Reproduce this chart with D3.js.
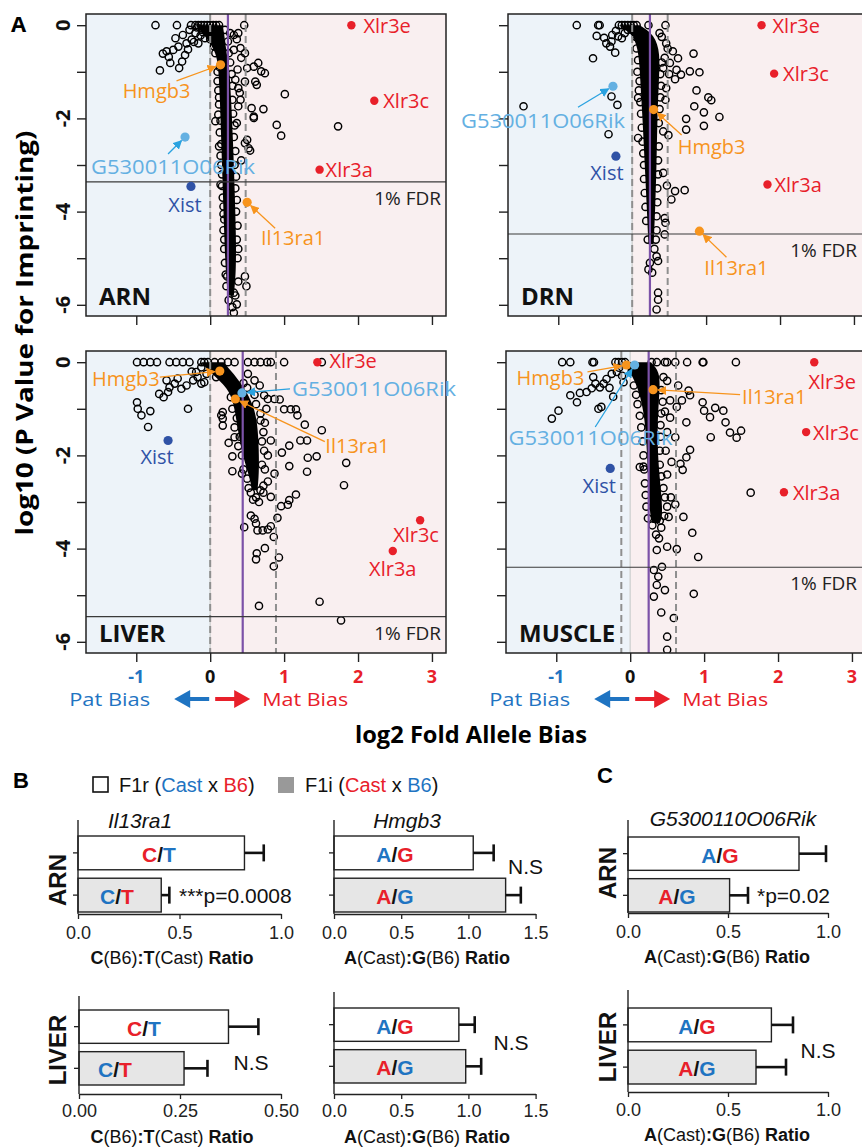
<!DOCTYPE html>
<html><head><meta charset="utf-8">
<script src="https://cdn.jsdelivr.net/npm/d3@7"></script>
<style>body{margin:0;background:#fff}svg{display:block}</style>
</head><body><svg id="c" width="862" height="1147"></svg>
<script>
// ===================== DATA =====================
const geneNames = ["Xlr3e","Xlr3c","Xlr3a","Hmgb3","Il13ra1","G530011O06Rik","Xist"];
const xTickValues = [-1,0,1,2,3];
const yTickValues = [0,-1,-2,-3,-4,-5,-6];
const yTickLabels = ["0","","-2","","-4","","-6"];

// open circles [log2 fold allele bias, log10 p]
const arnPoints = [[-0.74,0],[-0.45,0],[-0.26,0],[-0.2,0],[-0.16,0],[-0.12,0],[-0.08,0],[-0.04,0],[0.0,0],[0.04,0],[0.08,0],[0.12,0],[0.46,0],
[-0.64,-0.61],[-0.68,-0.97],[-0.54,-0.81],[-0.59,-0.56],[-0.5,-0.53],[-0.43,-0.46],[-0.38,-0.78],[-0.34,-0.64],[-0.42,-0.92],[-0.47,-0.28],[-0.32,-0.39],[-0.25,-0.31],[-0.2,-0.17],[-0.16,-0.39],[-0.37,-0.21],[-0.11,-0.1],[-0.07,-0.28],[-0.28,-0.1],[-0.13,-0.22],[-0.22,-0.36],[-0.56,-0.68],[-0.3,-0.52],
[0.27,-0.17],[0.32,-0.21],[0.38,-0.17],[0.41,-0.49],[0.47,-0.6],[0.32,-0.53],[0.65,-0.81],[0.59,-0.89],[0.74,-1.03],[0.69,-0.99],[0.5,-0.92],[0.47,-1.21],[0.61,-1.21],[0.63,-1.28],[0.34,-1.17],[0.38,-1.35],[1.01,-1.48],[0.56,-1.78],[0.72,-1.8],[0.59,-1.96],[0.59,-1.99],[0.9,-2.14],[0.96,-2.37],[1.73,-2.17],[0.47,-2.53],[0.52,-2.64],[0.54,-2.69],[0.41,-1.6],[0.38,-1.74],[0.5,-2.46],[0.36,-0.3],[0.42,-0.7],[0.37,-0.95],[0.4,-1.45],[0.36,-2.1],[0.42,-2.9],
[0.07,-2.06],[0.11,-1.92],[0.14,-3.42],[0.18,-3.89],[0.19,-4.17],[0.23,-5.39],[0.27,-4.96],[0.32,-5.74],[0.36,-5.99],[0.47,-5.39],[0.49,-5.6],[0.32,-6.17],[0.1,-1.2],[0.12,-2.6],[0.15,-3.0],[0.13,-0.9],
[0.1,-1.0],[0.11,-1.4],[0.12,-1.7],[0.13,-2.3],[0.14,-2.8],[0.16,-3.2],[0.17,-3.7],[0.18,-4.4],[0.19,-4.8],[0.2,-5.1],[0.22,-5.6],
[0.27,-0.8],[0.3,-1.3],[0.31,-1.9],[0.32,-2.4],[0.33,-3.0],[0.34,-3.5],[0.35,-4.0],[0.36,-4.6],[0.37,-5.0],[0.38,-5.5],[0.34,-5.8],[0.3,-6.05],[0.25,-5.9],
[-0.18,-0.05],[-0.1,-0.15],[0.0,-0.3],[0.05,-0.45],[0.07,-0.6],[0.2,-0.1],[0.24,-0.35],[0.25,-0.6],[0.29,-1.05],[0.3,-1.6],[0.33,-2.15],[0.34,-2.7],[0.35,-3.25],[0.36,-3.75],[0.37,-4.3],[0.38,-4.8],[0.12,-1.55],[0.14,-2.05],[0.15,-2.55],[0.16,-3.45],[0.18,-4.05],[0.19,-4.6],[0.21,-5.35]];

const drnPoints = [[-0.75,0],[-0.46,0],[-0.44,0],[-0.18,0],[-0.14,0],[-0.1,0],[-0.06,0],[-0.02,0],[0.02,0],[0.06,0],[0.22,0],[0.45,0],
[-0.48,-0.23],[-0.35,-0.39],[-0.28,-0.35],[-0.23,-0.59],[-0.53,-0.71],[-0.27,-0.21],[-0.19,-0.24],[-0.1,-0.17],[-0.3,-0.46],[-0.14,-0.28],[-0.22,-0.12],[-0.06,-0.1],[-0.38,-0.27],
[-1.47,-1.74],[-0.28,-1.53],[-0.2,-1.71],[-0.32,-2.34],[0.08,-1.56],[0.08,-2.42],
[0.37,-0.17],[0.4,-0.25],[0.46,-0.39],[0.55,-0.56],[0.62,-0.71],[0.83,-0.61],[0.51,-0.81],[0.6,-0.96],[0.78,-0.99],[0.91,-1.01],[0.58,-1.16],[0.66,-1.06],[0.42,-0.92],[0.46,-1.35],[0.87,-1.4],[1.03,-1.55],[1.07,-1.61],[0.84,-1.74],[0.97,-1.87],[1.18,-1.97],[0.73,-2.01],[0.73,-2.24],[0.97,-2.16],[0.49,-2.36],[0.42,-2.28],[0.47,-3.44],[0.58,-3.56],[0.71,-3.54],[0.53,-3.74],[0.42,-3.17],[0.44,-4.14],[0.45,-4.24],[0.44,-4.49],[0.48,-0.5],[0.44,-0.7],[0.5,-1.05],[0.45,-1.6],
[0.22,-5.24],[0.27,-5.31],[0.35,-5.06],[0.33,-4.96],[0.35,-5.74],[0.35,-5.89],[0.33,-6.1],[0.24,-5.1],
[0.06,-0.5],[0.07,-1.0],[0.09,-1.4],[0.12,-1.9],[0.14,-2.5],[0.16,-3.0],[0.17,-3.6],[0.19,-4.2],[0.21,-4.6],[0.4,-0.8],[0.39,-1.3],[0.37,-1.8],[0.36,-2.6],[0.35,-3.2],[0.34,-3.8],[0.33,-4.4],[0.3,-4.8],
[0.05,-0.25],[0.08,-0.75],[0.1,-1.2],[0.11,-1.65],[0.13,-2.2],[0.15,-2.75],[0.16,-3.3],[0.18,-3.9],[0.38,-1.05],[0.38,-1.55],[0.36,-2.1],[0.35,-2.9],[0.34,-3.5],[0.33,-4.1],[0.32,-4.6]];

const liverPoints = [[-0.99,0],[-0.9,0],[-0.81,0],[-0.72,0],[-0.55,0],[-0.46,0],[-0.37,0],[-0.28,0],[-0.12,0],[-0.08,0],[-0.03,0],[0.06,0],[0.15,0],[0.24,0],[0.33,0],[0.51,0],[0.6,0],[0.68,0],[0.77,0],[0.82,0],[1.0,0],[1.51,0],
[-0.99,-0.86],[-0.98,-1.0],[-0.93,-1.14],[-0.84,-1.39],[-0.81,-1.05],[-0.69,-0.68],[-0.63,-0.75],[-0.57,-0.64],[-0.55,-0.54],[-0.48,-0.46],[-0.39,-0.57],[-0.32,-0.5],[-0.3,-1.0],[-0.23,-0.39],[-0.17,-0.32],[-0.12,-0.46],[-0.08,-0.43],[-0.59,-0.39],[-0.44,-0.35],[-0.19,-0.21],[-0.12,-0.11],[0.08,-0.32],[-0.25,-0.2],[-0.05,-0.25],
[0.17,-1.07],[0.17,-1.21],[0.17,-1.36],[0.15,-1.14],[0.25,-1.73],[0.3,-2.02],[0.3,-2.34],[0.33,-1.61],[0.43,-2.39],
[0.51,-0.25],[0.6,-0.39],[0.67,-0.5],[0.73,-0.71],[0.78,-0.79],[0.87,-0.79],[0.94,-0.8],[1.0,-1.01],[1.09,-1.01],[1.16,-1.01],[1.18,-1.14],[1.28,-1.34],[1.51,-1.46],[1.31,-1.68],[1.22,-1.68],[1.07,-1.79],[0.97,-1.94],[1.32,-2.05],[1.44,-2.02],[1.84,-2.16],[1.07,-2.23],[1.31,-2.35],[1.81,-2.64],[1.16,-2.84],[1.07,-2.96],[1.05,-3.06],[0.96,-3.09],[0.91,-3.34],[0.82,-2.89],[0.78,-2.56],[0.87,-2.39],[0.82,-1.68],[0.78,-2.0],[0.74,-1.3],[0.76,-1.0],
[0.46,-3.54],[0.55,-3.29],[0.6,-3.36],[0.62,-3.46],[0.64,-3.61],[0.71,-3.61],[0.78,-3.59],[0.82,-3.52],[0.86,-3.75],[0.74,-3.99],[0.63,-4.1],[0.62,-4.23],[0.93,-4.19],[0.86,-4.38],[0.66,-5.23],[1.48,-5.14],[1.77,-5.54],[0.58,-2.95],[0.66,-3.0],[0.72,-2.8],
[0.28,-0.75],[0.3,-1.0],[0.33,-1.4],[0.38,-1.8],[0.45,-2.3],[0.52,-2.7],[0.6,-0.7],[0.68,-1.1],[0.72,-1.5],[0.73,-1.9],[0.74,-2.3],[0.72,-2.65],
[0.33,-0.6],[0.36,-1.2],[0.4,-1.6],[0.43,-2.0],[0.5,-2.5],[0.55,-2.8],[0.62,-2.9],[0.68,-2.75],[0.7,-2.2],[0.7,-1.7],[0.68,-1.25],[0.62,-0.9],[0.5,-0.55],[0.45,-0.45],[0.22,-0.4],[0.28,-0.5]];

const musclePoints = [[-0.92,0],[-0.81,0],[-0.51,0],[-0.49,0],[-0.2,0],[-0.16,0],[-0.11,0],[-0.07,0],[0.29,0],[0.36,0],[0.47,0],[0.5,0],[0.61,0],[0.77,0],[0.98,0],[0.99,0],[1.43,0],
[-1.06,-1.21],[-0.97,-1.04],[-0.81,-0.71],[-0.72,-0.86],[-0.68,-0.66],[-0.59,-0.64],[-0.52,-0.56],[-0.5,-0.32],[-0.43,-1.0],[-0.39,-0.96],[-0.23,-0.74],[-0.36,-0.46],[-0.32,-0.36],[-0.25,-0.25],[-0.18,-0.21],[-0.11,-0.29],[-0.41,-0.54],[-0.47,-0.46],[-0.09,-0.43],[-0.28,-0.55],[-0.15,-0.12],
[0.45,-0.32],[0.5,-0.4],[0.65,-0.5],[0.79,-0.61],[0.81,-0.71],[0.7,-0.82],[0.54,-0.82],[0.63,-0.96],[0.47,-1.06],[0.54,-1.19],[0.76,-1.29],[0.98,-0.86],[1.0,-1.04],[1.08,-1.18],[1.15,-0.98],[1.26,-1.04],[1.29,-1.29],[1.09,-1.61],[1.35,-1.51],[1.44,-1.62],[1.5,-1.47],[0.61,-1.61],[0.81,-1.88],[0.76,-2.04],[0.68,-2.18],[0.71,-2.31],[0.56,-2.14],[0.5,-2.41],[0.13,-2.25],[0.18,-2.24],[1.63,-2.8],[0.61,-3.05],[0.72,-3.32],[0.52,-3.32],[0.84,-3.66],[0.5,-1.5],[0.48,-1.9],[0.55,-2.9],
[0.39,-3.78],[0.5,-3.96],[0.63,-4.01],[0.92,-4.18],[0.36,-4.03],[0.43,-4.39],[0.32,-4.46],[0.38,-4.6],[0.36,-4.78],[0.47,-4.89],[0.32,-5.03],[0.86,-4.97],[0.42,-5.37],[0.59,-5.49],[0.5,-5.89],[0.5,-6.17],[0.42,-3.55],[0.35,-3.7],
[0.05,-0.5],[0.1,-0.9],[0.15,-1.4],[0.18,-2.0],[0.2,-2.6],[0.22,-3.1],[0.42,-0.6],[0.42,-1.1],[0.41,-1.6],[0.4,-2.2],[0.45,-2.7],[0.5,-3.1],[0.4,-3.4],
[0.02,-0.2],[0.08,-0.7],[0.13,-1.15],[0.17,-1.7],[0.19,-2.3],[0.21,-2.85],[0.24,-3.35],[0.3,-3.5],[0.44,-0.85],[0.41,-1.35],[0.4,-1.9],[0.42,-2.45],[0.47,-2.9],[0.46,-3.3]];

// dense over-plotted core of each cloud: [log10 p, left edge, right edge]
const arnBand = [[0,-0.2,0.17],[-0.3,-0.03,0.2],[-0.6,0.08,0.22],[-0.9,0.11,0.26],[-1.5,0.13,0.28],[-2.5,0.15,0.31],[-3.5,0.17,0.33],[-4.5,0.19,0.35],[-5.3,0.21,0.35],[-5.8,0.24,0.32]];
const drnBand = [[0,-0.18,0.1],[-0.2,0.02,0.3],[-0.6,0.09,0.38],[-1.2,0.11,0.36],[-2.0,0.14,0.34],[-3.0,0.17,0.33],[-4.0,0.2,0.31],[-4.7,0.22,0.29]];
const liverBand = [[0,-0.12,0.18],[-0.25,0.02,0.32],[-0.55,0.24,0.46],[-0.9,0.32,0.58],[-1.3,0.36,0.64],[-1.9,0.42,0.66],[-2.4,0.52,0.66],[-2.75,0.57,0.64]];
const muscleBand = [[0,-0.12,0.28],[-0.2,0.0,0.4],[-0.6,0.12,0.4],[-1.2,0.2,0.37],[-2.0,0.23,0.37],[-2.8,0.25,0.42],[-3.3,0.27,0.44],[-3.45,0.3,0.4]];

// highlighted genes, order = geneNames
const arnSpecial = [[1.91,0],[2.22,-1.62],[1.48,-3.1],[0.14,-0.85],[0.5,-3.8],[-0.34,-2.4],[-0.26,-3.46]];
const drnSpecial = [[1.75,0],[1.92,-1.04],[1.83,-3.42],[0.29,-1.81],[0.91,-4.42],[-0.26,-1.31],[-0.22,-2.81]];
const liverSpecial = [[1.45,0],[2.84,-3.39],[2.47,-4.05],[0.13,-0.19],[0.34,-0.79],[0.43,-0.66],[-0.57,-1.68]];
const muscleSpecial = [[2.49,0],[2.38,-1.5],[2.08,-2.79],[-0.05,-0.06],[0.31,-0.59],[0.06,-0.06],[-0.27,-2.28]];

// thresholds: [dashed lo, dashed hi], median, 1% FDR
const arnDashes = [0,0.48], arnMedian = 0.24, arnFdr = -3.36;
const drnDashes = [0,0.48], drnMedian = 0.24, drnFdr = -4.48;
const liverDashes = [0,0.89], liverMedian = 0.44, liverFdr = -5.46;
const muscleDashes = [-0.12,0.62], muscleMedian = 0.25, muscleFdr = -4.40;

// Panel B / C: [F1r, F1i]
const crosses = ["F1r","F1i"];
const il13ArnMean = [0.82,0.41], il13ArnErr = [0.095,0.04];
const hmgbArnMean = [1.036,1.277], hmgbArnErr = [0.152,0.113];
const il13LivMean = [0.37,0.26], il13LivErr = [0.074,0.058];
const hmgbLivMean = [0.929,0.98], hmgbLivErr = [0.118,0.115];
const g53ArnMean = [0.855,0.508], g53ArnErr = [0.135,0.092];
const g53LivMean = [0.717,0.64], g53LivErr = [0.108,0.15];
const ticks10 = [0,0.5,1.0], ticks15 = [0,0.5,1.0,1.5], ticks05 = [0,0.25,0.5];

// ===================== STYLE =====================
const BLUE="#1f74c2", RED="#e8202a", ORANGE="#f7941d", LBLUE="#64b0e2", ABLUE="#2aa2e0", DBLUE="#2f52a6", PURPLE="#7c52a8";
const SANS="'Open Sans', 'Liberation Sans', Arial, sans-serif";
const ARIAL="'Liberation Sans', Arial, sans-serif";
const geneColor = [RED,RED,RED,ORANGE,ORANGE,LBLUE,DBLUE];
const svg = d3.select("#c");
const defs = svg.append("defs");
function marker(id,color){
  defs.append("marker").attr("id",id).attr("viewBox","0 0 10 10").attr("refX",9).attr("refY",5)
   .attr("markerWidth",7).attr("markerHeight",7).attr("orient","auto")
   .append("path").attr("d","M0,0L10,5L0,10Z").attr("fill",color);
}
marker("mOr",ORANGE); marker("mBl",ABLUE);

const xDomain=[-1.68,3.19], yDomain=[-6.24,0.24];
const PW=360, PH=302;

// label layout per panel: [dx,dy,anchor,arrowFrom(dx,dy) or null]
const layouts = {
 ARN:[[12,0,"start"],[9,0,"start"],[6,0,"start"],[-64,26,"middle",[-44,16]],[46,35,"middle",[28,26]],[-12,29,"middle",[-17,17]],[-6,18,"middle"]],
 DRN:[[11,0,"start"],[9,0,"start"],[7,0,"start"],[58,37,"middle",[28,25.5]],[37,36,"middle",[27,26]],[-70,34,"middle",[-35,21]],[-9,16,"middle"]],
 LIVER:[[12,-2,"start"],[-27,14,"start"],[0,18,"middle"],[-94,7,"middle",[-60,6]],[90,46,"start",[89.5,42.7]],[50,-4,"start",[48,-4]],[-11,16,"middle"]],
 MUSCLE:[[18,19,"middle"],[7,0,"start"],[9,0,"start"],[-76,13,"middle",[-39,7]],[89,7,"start",[87,5]],[-44,73,"middle",[-39.4,62]],[-11,17,"middle"]]
};

const panels = [
 {name:"ARN",left:86,top:14,pts:arnPoints,band:arnBand,sp:arnSpecial,dash:arnDashes,med:arnMedian,fdr:arnFdr,yl:true,xl:false},
 {name:"DRN",left:508,top:14,pts:drnPoints,band:drnBand,sp:drnSpecial,dash:drnDashes,med:drnMedian,fdr:drnFdr,yl:false,xl:false},
 {name:"LIVER",left:86,top:351,pts:liverPoints,band:liverBand,sp:liverSpecial,dash:liverDashes,med:liverMedian,fdr:liverFdr,yl:true,xl:true},
 {name:"MUSCLE",left:506,top:351,pts:musclePoints,band:muscleBand,sp:muscleSpecial,dash:muscleDashes,med:muscleMedian,fdr:muscleFdr,yl:false,xl:true}
];

panels.forEach((p,i)=>{
  const x=d3.scaleLinear().domain(xDomain).range([p.left,p.left+PW]);
  const y=d3.scaleLinear().domain(yDomain).range([p.top+PH,p.top]);
  const g=svg.append("g");
  const cid="clip"+i;
  defs.append("clipPath").attr("id",cid).append("rect").attr("x",p.left).attr("y",p.top).attr("width",PW).attr("height",PH);
  const inner=g.append("g").attr("clip-path",`url(#${cid})`);
  inner.append("rect").attr("x",p.left).attr("y",p.top).attr("width",x(0)-p.left).attr("height",PH).attr("fill","#edf3f9");
  inner.append("rect").attr("x",x(0)).attr("y",p.top).attr("width",p.left+PW-x(0)).attr("height",PH).attr("fill","#f9eff0");
  inner.append("line").attr("x1",x(0)).attr("x2",x(0)).attr("y1",p.top).attr("y2",p.top+PH).attr("stroke","#d4d4d4").attr("stroke-width",1.5);
  // dense core
  const area=d3.area().curve(d3.curveBasis).y(d=>y(d[0])).x0(d=>x(d[1])).x1(d=>x(d[2]));
  inner.append("path").datum(p.band).attr("d",area).attr("fill","#000");
  inner.selectAll("circle.pt").data(p.pts).join("circle").attr("class","pt")
    .attr("cx",d=>x(d[0])).attr("cy",d=>y(d[1])).attr("r",3.6)
    .attr("fill","none").attr("stroke","#000").attr("stroke-width",1.45);
  p.dash.forEach(v=>inner.append("line").attr("x1",x(v)).attr("x2",x(v)).attr("y1",p.top).attr("y2",p.top+PH)
     .attr("stroke","#8f8f8f").attr("stroke-width",2).attr("stroke-dasharray","7,4"));
  inner.append("line").attr("x1",x(p.med)).attr("x2",x(p.med)).attr("y1",p.top).attr("y2",p.top+PH).attr("stroke",PURPLE).attr("stroke-width",2.2);
  inner.append("line").attr("x1",p.left).attr("x2",p.left+PW).attr("y1",y(p.fdr)).attr("y2",y(p.fdr)).attr("stroke","#3a3a3a").attr("stroke-width",1.2);
  g.append("text").attr("x",Math.min(p.left+PW-5,857)).attr("y",y(p.fdr)+16).attr("text-anchor","end").attr("dominant-baseline","central")
    .attr("font-family",SANS).attr("font-size",19).attr("fill","#222").text("1% FDR");
  g.append("text").attr("x",p.left+13).attr("y",p.top+PH-11).attr("font-family",SANS).attr("font-weight",700)
    .attr("font-size",24).attr("fill","#111").text(p.name);
  // frame
  g.append("rect").attr("x",p.left).attr("y",p.top).attr("width",PW).attr("height",PH).attr("fill","none").attr("stroke","#222").attr("stroke-width",1.5);
  // axes
  const ay=g.append("g").attr("transform",`translate(${p.left},0)`).call(d3.axisLeft(y).tickValues(yTickValues).tickSize(9).tickFormat(""));
  ay.select(".domain").remove(); ay.selectAll("line").attr("stroke","#222").attr("stroke-width",1.4);
  const ax=g.append("g").attr("transform",`translate(0,${p.top+PH})`).call(d3.axisBottom(x).tickValues(xTickValues).tickSize(9).tickFormat(""));
  ax.select(".domain").remove(); ax.selectAll("line").attr("stroke","#222").attr("stroke-width",1.4);
  if(p.yl){
    yTickValues.forEach((v,k)=>{ if(!yTickLabels[k]) return;
      g.append("text").attr("transform",`translate(62,${y(v)}) rotate(-90)`).attr("text-anchor","middle").attr("dominant-baseline","central")
       .attr("font-family",SANS).attr("font-weight",700).attr("font-size",20).attr("fill","#111").text(yTickLabels[k]);});
  }
  if(p.xl){
    xTickValues.forEach(v=>{
      g.append("text").attr("x",x(v)).attr("y",676).attr("text-anchor","middle").attr("dominant-baseline","central")
       .attr("font-family",SANS).attr("font-weight",700).attr("font-size",18).attr("fill",v<0?BLUE:(v===0?"#111":RED)).text(v);});
    const x0=x(0), yy=699;
    g.append("text").attr("x",x0-60).attr("y",yy).attr("text-anchor","end").attr("dominant-baseline","central")
      .attr("font-family",SANS).attr("font-size",19).attr("fill",BLUE).attr("textLength",81).attr("lengthAdjust","spacingAndGlyphs").text("Pat Bias");
    g.append("text").attr("x",x0+52).attr("y",yy).attr("dominant-baseline","central")
      .attr("font-family",SANS).attr("font-size",19).attr("fill",RED).attr("textLength",86).attr("lengthAdjust","spacingAndGlyphs").text("Mat Bias");
    g.append("path").attr("d",`M${x0-36},${yy} L${x0-20},${yy-9} L${x0-20},${yy-2} L${x0-1},${yy-2} L${x0-1},${yy+2} L${x0-20},${yy+2} L${x0-20},${yy+9}Z`).attr("fill",BLUE);
    g.append("path").attr("d",`M${x0+40},${yy} L${x0+24},${yy-9} L${x0+24},${yy-2} L${x0+5},${yy-2} L${x0+5},${yy+2} L${x0+24},${yy+2} L${x0+24},${yy+9}Z`).attr("fill",RED);
  }
  // highlighted genes
  const lay=layouts[p.name];
  p.sp.forEach((d,k)=>{
    const px=x(d[0]), py=y(d[1]), L=lay[k], col=geneColor[k];
    if(L[3]){
      const fx=px+L[3][0], fy=py+L[3][1];
      const ang=Math.atan2(py-fy,px-fx), tx=px-Math.cos(ang)*5, ty=py-Math.sin(ang)*5;
      g.append("line").attr("x1",fx).attr("y1",fy).attr("x2",tx).attr("y2",ty)
       .attr("stroke",k===5?ABLUE:col).attr("stroke-width",1.3).attr("marker-end",k===5?"url(#mBl)":"url(#mOr)");
    }
    g.append("circle").attr("cx",px).attr("cy",py).attr("r",k<3?4.2:4.6).attr("fill",col);
    const t=g.append("text").attr("x",px+L[0]).attr("y",py+L[1]).attr("text-anchor",L[2]).attr("dominant-baseline","central")
      .attr("font-family",SANS).attr("font-size",20).attr("fill",col).text(geneNames[k]);
    if(k===5) t.attr("textLength",164).attr("lengthAdjust","spacingAndGlyphs");
  });
});

// panel A titles
svg.append("text").attr("x",11).attr("y",32).attr("font-family",SANS).attr("font-weight",700).attr("font-size",22).text("A");
svg.append("text").attr("transform","translate(23,333) rotate(-90)").attr("text-anchor","middle").attr("dominant-baseline","central")
  .attr("font-family",SANS).attr("font-weight",700).attr("font-size",24).attr("textLength",405).attr("lengthAdjust","spacingAndGlyphs")
  .text("log10 (P Value for Imprinting)");
svg.append("text").attr("x",471).attr("y",734).attr("text-anchor","middle").attr("dominant-baseline","central")
  .attr("font-family",SANS).attr("font-weight",700).attr("font-size",23).attr("textLength",232).attr("lengthAdjust","spacingAndGlyphs")
  .text("log2 Fold Allele Bias");

// ===================== PANEL B / C =====================
function rich(sel,parts){ parts.forEach(pt=>{ sel.append("tspan").attr("fill",pt[1]||"#111").attr("font-weight",pt[2]||null).text(pt[0]); }); return sel; }
svg.append("text").attr("x",13).attr("y",788).attr("font-family",ARIAL).attr("font-weight",700).attr("font-size",22).text("B");
svg.append("text").attr("x",597).attr("y",783).attr("font-family",ARIAL).attr("font-weight",700).attr("font-size",22).text("C");
svg.append("rect").attr("x",93).attr("y",777).attr("width",15).attr("height",15).attr("fill","#fff").attr("stroke","#111").attr("stroke-width",1.6);
rich(svg.append("text").attr("x",119).attr("y",785).attr("dominant-baseline","central").attr("font-family",ARIAL).attr("font-size",20),
  [["F1r ("],["Cast",BLUE],[" x "],["B6",RED],[")"]]);
svg.append("rect").attr("x",278).attr("y",777).attr("width",16).attr("height",16).attr("fill","#999");
rich(svg.append("text").attr("x",305).attr("y",785).attr("dominant-baseline","central").attr("font-family",ARIAL).attr("font-size",20),
  [["F1i ("],["Cast",RED],[" x "],["B6",BLUE],[")"]]);

const ctLab = [[["C",RED],["/"],["T",BLUE]],[["C",BLUE],["/"],["T",RED]]];
const agLab = [[["A",BLUE],["/"],["G",RED]],[["A",RED],["/"],["G",BLUE]]];
const ctTitle = [["C","#111",700],["(B6)"],[":","#111",700],["T","#111",700],["(Cast) "],["Ratio","#111",700]];
const agTitle = [["A","#111",700],["(Cast)"],[":","#111",700],["G","#111",700],["(B6) "],["Ratio","#111",700]];

function barChart(c){
  const x=d3.scaleLinear().domain([0,c.max]).range([c.x0,c.x0+c.max*c.ppu]);
  const y=d3.scaleBand().domain(crosses).range(c.band).paddingInner(0.2).paddingOuter(0);
  const g=svg.append("g");
  g.selectAll("rect.bar").data(c.mean).join("rect").attr("class","bar")
   .attr("x",x(0)).attr("y",(d,i)=>y(crosses[i])).attr("width",d=>x(d)-x(0)).attr("height",y.bandwidth())
   .attr("fill",(d,i)=>i?"#e6e6e6":"#fff").attr("stroke","#222").attr("stroke-width",1.4);
  c.mean.forEach((m,i)=>{
    const cy=y(crosses[i])+y.bandwidth()/2, e=m+c.err[i];
    g.append("line").attr("x1",x(m)).attr("x2",x(e)).attr("y1",cy).attr("y2",cy).attr("stroke","#111").attr("stroke-width",2.6);
    g.append("line").attr("x1",x(e)).attr("x2",x(e)).attr("y1",cy-8.5).attr("y2",cy+8.5).attr("stroke","#111").attr("stroke-width",2.6);
    rich(g.append("text").attr("x",c.labX[i]).attr("y",cy+1).attr("text-anchor","middle").attr("dominant-baseline","central")
      .attr("font-family",ARIAL).attr("font-weight",700).attr("font-size",21),c.lab[i]);
  });
  g.append("line").attr("x1",x(0)).attr("x2",x(0)).attr("y1",c.top).attr("y2",c.axisY).attr("stroke","#222").attr("stroke-width",1.4);
  const ay=g.append("g").attr("transform",`translate(${x(0)},0)`).call(d3.axisLeft(y).tickSize(5).tickFormat(""));
  ay.select(".domain").remove(); ay.selectAll("line").attr("stroke","#222").attr("stroke-width",1.3);
  const ax=g.append("g").attr("transform",`translate(0,${c.axisY})`).call(d3.axisBottom(x).tickValues(c.ticks).tickSize(5).tickSizeOuter(0).tickPadding(c.pad).tickFormat(c.fmt));
  ax.select(".domain").attr("stroke","#222").attr("stroke-width",1.4);
  ax.selectAll("line").attr("stroke","#222").attr("stroke-width",1.3);
  ax.selectAll("text").attr("font-family",ARIAL).attr("font-size",18).attr("fill","#222");
  rich(g.append("text").attr("x",c.titleX).attr("y",c.titleY).attr("text-anchor","middle").attr("dominant-baseline","central")
    .attr("font-family",ARIAL).attr("font-size",18),c.xt);
  if(c.gene) g.append("text").attr("x",c.geneX).attr("y",c.geneY).attr("text-anchor","middle").attr("dominant-baseline","central")
    .attr("font-family",ARIAL).attr("font-style","italic").attr("font-size",21).attr("fill","#111").text(c.gene);
  if(c.row) g.append("text").attr("transform",`translate(${c.rowX},${c.rowY}) rotate(-90)`).attr("text-anchor","middle").attr("dominant-baseline","central")
    .attr("font-family",ARIAL).attr("font-weight",700).attr("font-size",24).attr("fill","#111").text(c.row);
  g.append("text").attr("x",c.ann[1]).attr("y",c.ann[2]).attr("text-anchor",c.ann[3]).attr("dominant-baseline","central")
    .attr("font-family",ARIAL).attr("font-size",21).attr("fill","#111").text(c.ann[0]);
}
const f1=d3.format(".1f"), f2=d3.format(".2f");
barChart({x0:78,ppu:203,max:1.0,ticks:ticks10,fmt:f1,band:[836,912],top:820,axisY:914,pad:7,mean:il13ArnMean,err:il13ArnErr,lab:ctLab,labX:[159,117],
  xt:ctTitle,titleX:172,titleY:958,gene:"Il13ra1",geneX:140,geneY:820,row:"ARN",rowX:57,rowY:880,ann:["***p=0.0008",179,895,"start"]});
barChart({x0:334,ppu:134.4,max:1.5,ticks:ticks15,fmt:f1,band:[836,912],top:820,axisY:914,pad:7,mean:hmgbArnMean,err:hmgbArnErr,lab:agLab,labX:[395,395],
  xt:agTitle,titleX:427,titleY:958,gene:"Hmgb3",geneX:407,geneY:820,ann:["N.S",508,866,"start"]});
barChart({x0:79,ppu:404,max:0.5,ticks:ticks05,fmt:f2,band:[1010,1085],top:996,axisY:1094,pad:5,mean:il13LivMean,err:il13LivErr,lab:ctLab,labX:[144,115],
  xt:ctTitle,titleX:172,titleY:1137,row:"LIVER",rowX:57,rowY:1050,ann:["N.S",251,1062,"middle"]});
barChart({x0:334,ppu:134.4,max:1.5,ticks:ticks15,fmt:f1,band:[1008,1083],top:992,axisY:1094,pad:5,mean:hmgbLivMean,err:hmgbLivErr,lab:agLab,labX:[395,395],
  xt:agTitle,titleX:427,titleY:1137,ann:["N.S",511,1042,"middle"]});
barChart({x0:628,ppu:200,max:1.0,ticks:ticks10,fmt:f1,band:[837,912],top:820,axisY:913,pad:7,mean:g53ArnMean,err:g53ArnErr,lab:agLab,labX:[720,677],
  xt:agTitle,titleX:727,titleY:957,gene:"G5300110O06Rik",geneX:733,geneY:818,row:"ARN",rowX:607,rowY:873,ann:["*p=0.02",757,895,"start"]});
barChart({x0:628,ppu:200,max:1.0,ticks:ticks10,fmt:f1,band:[1008,1084],top:990,axisY:1092,pad:6,mean:g53LivMean,err:g53LivErr,lab:agLab,labX:[697,697],
  xt:agTitle,titleX:727,titleY:1135,row:"LIVER",rowX:607,rowY:1047,ann:["N.S",818,1050,"middle"]});
</script></body></html>
